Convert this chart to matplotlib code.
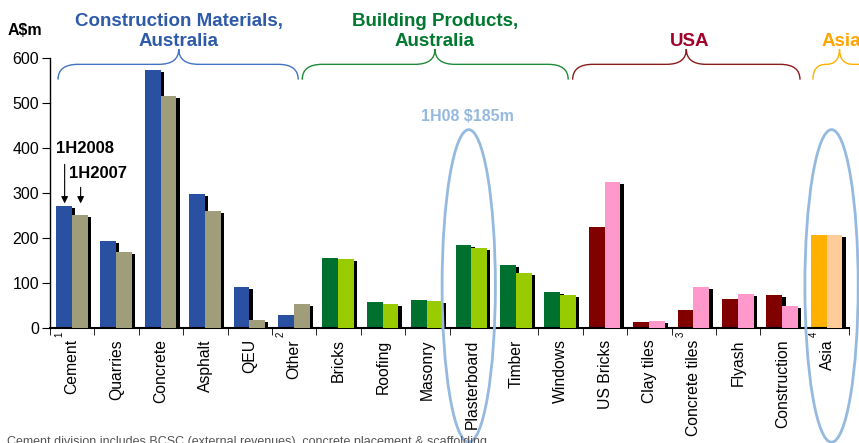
import matplotlib
matplotlib.use('Agg')
import matplotlib.pyplot as plt
import numpy as np
from matplotlib.path import Path
import matplotlib.patches as patches

plt.rcParams['font.family'] = ['Liberation Sans', 'DejaVu Sans']

# データ (A$m)
categories = ['Cement', 'Quarries', 'Concrete', 'Asphalt', 'QEU', 'Other',
              'Bricks', 'Roofing', 'Masonry', 'Plasterboard', 'Timber', 'Windows',
              'US Bricks', 'Clay tiles', 'Concrete tiles', 'Flyash',
              'Construction', 'Asia']
notes = {0: '1', 5: '2', 14: '3', 17: '4'}   # 脚注番号
h1_2008 = [272, 194, 573, 298, 92, 30, 157, 58, 63, 185, 141, 81,
           225, 14, 41, 65, 74, 207]
h1_2007 = [252, 170, 516, 261, 18, 54, 154, 54, 60, 178, 123, 74,
           325, 16, 92, 76, 50, 207]
group_size = [6, 6, 5, 1]
group_names = ['Construction Materials,\nAustralia', 'Building Products,\nAustralia',
               'USA', 'Asia']

# 色
dark_cols = ['#2A50A2', '#00702E', '#800000', '#FFB000']
light_cols = ['#A09E7A', '#99CC00', '#FF99CC', '#FFCC99']
title_cols = ['#2E5BA8', '#00782F', '#A0002A', '#FFA500']
brace_cols = ['#4472C4', '#1F8A3A', '#8B1A1A', '#FFB000']

dark = []
light = []
for i, n in enumerate(group_size):
    dark += [dark_cols[i]] * n
    light += [light_cols[i]] * n

fig = plt.figure(figsize=(8.59, 4.43), dpi=100)
ax = fig.add_axes([0.0582, 0.259, 0.9305, 0.610])
ax.set_xlim(0, 18)
ax.set_ylim(0, 600)

x = np.arange(len(categories))
bw = 0.355
x_dark = x + 0.135 + bw / 2
x_light = x + 0.135 + bw * 1.5
# 影
sdx = 0.075
sdy = 4.5
ax.bar(x_dark + sdx, np.array(h1_2008) - sdy, bw, color='black', zorder=1)
ax.bar(x_dark, h1_2008, bw, color=dark, zorder=2)
ax.bar(x_light + sdx, np.array(h1_2007) - sdy, bw, color='black', zorder=3)
ax.bar(x_light, h1_2007, bw, color=light, zorder=4)

# 軸
ax.spines['top'].set_visible(False)
ax.spines['right'].set_visible(False)
ax.spines['left'].set_linewidth(1.0)
ax.spines['bottom'].set_linewidth(1.5)
ax.set_yticks(np.arange(0, 700, 100))
ax.tick_params(axis='y', labelsize=11.5, length=6, direction='out', pad=2)
ax.set_xticks(x + 0.5)
ax.set_xticklabels(categories, rotation=90, fontsize=11.3)
ax.tick_params(axis='x', which='major', length=0, pad=8)
ax.set_xticks(np.arange(0, 19), minor=True)
ax.tick_params(axis='x', which='minor', length=5, direction='out')

for i, s in notes.items():
    ax.text(i + 0.5 - 0.3, -7, s, rotation=90, ha='center', va='top',
            fontsize=7, clip_on=False)

# 中括弧
def brace(x0, x1, xm, color):
    yb, yh, yt = 552, 586, 620
    r = min(0.45, (xm - x0) / 2)
    verts = [(x0, yb), (x0, yh), (x0 + r, yh), (xm - r, yh),
             (xm, yh), (xm, yt), (xm, yh), (xm + r, yh),
             (x1 - r, yh), (x1, yh), (x1, yb)]
    codes = [Path.MOVETO, Path.CURVE3, Path.CURVE3, Path.LINETO,
             Path.CURVE3, Path.CURVE3, Path.CURVE3, Path.CURVE3,
             Path.LINETO, Path.CURVE3, Path.CURVE3]
    p = patches.PathPatch(Path(verts, codes), facecolor='none', edgecolor=color,
                          lw=1.0, clip_on=False)
    ax.add_patch(p)

brace_spans = [(0.18, 5.59, 2.9), (5.68, 11.67, 8.67), (11.77, 16.89, 14.33),
               (17.18, 20.4, 17.78)]
title_x = [2.9, 8.67, 14.41, 17.82]
for i, n in enumerate(group_size):
    b0, b1, bm = brace_spans[i]
    brace(b0, b1, bm, brace_cols[i])
    ax.text(title_x[i], 627, group_names[i], ha='center', va='baseline', fontsize=13.5,
            fontweight='bold', color=title_cols[i], linespacing=1.25)

# 楕円
ell_col = '#95B9DF'
for cx in [9.43, 17.6]:
    e = patches.Ellipse((cx, 94), 1.2, 694, facecolor='none', edgecolor=ell_col,
                        lw=2.0, clip_on=False, zorder=6)
    ax.add_patch(e)
ax.text(9.4, 470, '1H08 $185m', ha='center', va='center', fontsize=11.5,
        fontweight='bold', color=ell_col)

# 凡例
ax.text(0.79, 400, '1H2008', ha='center', va='center', fontsize=12, fontweight='bold')
ax.text(1.08, 343, '1H2007', ha='center', va='center', fontsize=12, fontweight='bold')
ax.annotate('', xy=(0.33, 271), xytext=(0.33, 370),
            arrowprops=dict(arrowstyle='-|>', color='black', lw=0.8, mutation_scale=10))
ax.annotate('', xy=(0.69, 271), xytext=(0.69, 319),
            arrowprops=dict(arrowstyle='-|>', color='black', lw=0.8, mutation_scale=10))

ax.text(-0.56, 662, 'A$m', ha='center', va='center', fontsize=11.5, fontweight='bold')

fig.text(0.008, -0.004, 'Cement division includes BCSC (external revenues), concrete placement & scaffolding',
         fontsize=9, color='#555555', va='baseline', ha='left')

fig.savefig('out.png', dpi=100)
